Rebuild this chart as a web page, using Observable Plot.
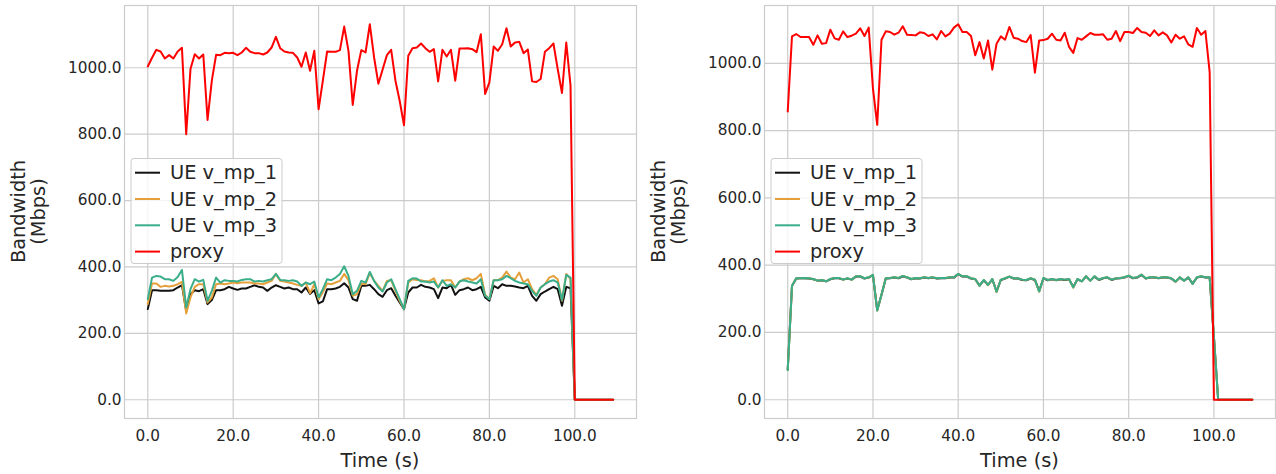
<!DOCTYPE html>
<html><head><meta charset="utf-8">
<script src="https://cdn.jsdelivr.net/npm/d3@7"></script>
<script src="https://cdn.jsdelivr.net/npm/@observablehq/plot@0.6"></script>
<style>
body{margin:0;background:#fff;}
#wrap{display:flex;width:1276px;height:474px;overflow:hidden;}
#wrap svg{font-family:"DejaVu Sans",sans-serif;display:block;}
</style></head><body><div id="wrap"></div>
<script>
// ---- data ----
const time = [0,1,2,3,4,5,6,7,8,9,10,11,12,13,14,15,16,17,18,19,20,21,22,23,24,25,26,27,28,29,30,31,32,33,34,35,36,37,38,39,40,41,42,43,44,45,46,47,48,49,50,51,52,53,54,55,56,57,58,59,60,61,62,63,64,65,66,67,68,69,70,71,72,73,74,75,76,77,78,79,80,81,82,83,84,85,86,87,88,89,90,91,92,93,94,95,96,97,98,99,100,101,102,103,104,105,106,107,108,109];
const seriesNames = ["UE v_mp_1","UE v_mp_2","UE v_mp_3","proxy"];
const seriesColors = ["#111111","#e5a03b","#3aae8a","#ff0000"];
const xTicks = [0,20,40,60,80,100];
const yTicks = [0,200,400,600,800,1000];
const xLabel = "Time (s)";
const yLabelLines = ["Bandwidth","(Mbps)"];

// left panel
const leftUE1 = [273,330,330,328,328,328,330,338,345,268,318,330,327,333,288,300,330,330,333,340,335,331,335,335,340,345,340,338,328,338,345,340,335,338,333,333,323,338,319,330,290,296,333,333,335,340,351,338,303,298,343,343,346,333,318,310,330,336,313,293,273,323,338,338,346,340,338,333,306,338,336,346,316,330,333,338,330,333,340,308,298,343,336,348,343,343,341,338,336,343,313,298,318,326,333,340,333,283,340,336,0,0,0,0,0,0,0,0,0,0];
const leftUE2 = [288,350,350,340,343,341,343,348,355,260,308,340,348,348,293,308,348,350,348,350,353,351,353,353,353,350,350,348,353,358,379,358,356,353,350,346,343,353,321,348,303,324,350,348,353,358,379,360,313,318,350,348,382,358,343,328,358,360,328,298,273,353,363,361,360,356,358,366,338,358,360,360,338,356,363,366,360,366,379,316,303,360,360,368,386,368,363,383,353,363,333,316,338,348,368,373,363,298,379,363,0,0,0,0,0,0,0,0,0,0];
const leftUE3 = [303,368,373,371,363,363,358,370,391,278,333,363,356,361,298,328,368,353,360,358,358,356,361,363,363,356,358,356,360,363,379,361,360,358,360,356,343,353,348,356,308,333,363,360,368,379,402,373,318,328,358,353,385,358,338,326,353,363,333,303,273,358,366,365,356,356,353,356,338,360,343,348,338,356,360,356,353,350,363,313,303,360,360,363,373,366,358,353,350,348,328,313,338,348,356,360,353,300,376,368,0,0,0,0,0,0,0,0,0,0];
const leftProxy = [1004,1030,1054,1049,1028,1038,1028,1049,1060,800,996,1041,1028,1040,843,961,1039,1038,1045,1044,1045,1038,1046,1060,1048,1044,1044,1040,1046,1061,1093,1059,1049,1046,1045,1031,1003,1046,991,1051,875,961,1049,1048,1048,1053,1124,1051,888,991,1053,1046,1131,1031,952,995,1038,1054,961,900,827,1036,1059,1061,1073,1059,1048,1056,959,1054,1034,1054,961,1058,1058,1059,1056,1047,1101,921,956,1064,1051,1071,1119,1064,1076,1078,1044,1055,959,957,966,1048,1059,1073,996,924,1076,946,0,0,0,0,0,0,0,0,0,0];

// right panel
const rightUE1 = [90,338,360,361,361,360,358,354,355,352,358,361,361,357,360,357,366,366,360,363,370,266,312,360,361,363,361,367,363,358,361,360,363,361,363,360,361,361,363,363,373,366,366,360,358,339,355,341,358,322,356,360,366,360,360,356,355,360,356,323,361,355,358,355,358,356,358,335,358,352,366,354,366,356,361,363,356,360,361,363,368,361,363,371,360,363,363,361,363,363,360,351,363,354,363,345,363,366,363,363,186,0,0,0,0,0,0,0,0,0];
const rightUE2 = [89,339,361,361,362,361,359,354,356,352,359,362,362,357,361,357,367,367,361,364,371,265,311,361,362,364,362,368,364,359,362,361,364,362,364,361,362,362,364,364,374,367,367,361,359,338,356,340,359,320,357,361,366,361,361,357,356,361,357,321,362,356,359,356,359,357,359,333,359,352,367,354,367,357,362,364,357,361,362,364,369,362,364,372,361,364,364,362,364,364,361,350,364,354,364,344,364,367,364,364,187,0,0,0,0,0,0,0,0,0];
const rightUE3 = [88,339,361,361,362,361,359,354,356,352,359,362,362,357,361,357,367,367,361,364,371,265,312,361,362,364,362,368,364,359,362,361,364,362,364,361,362,362,364,364,374,367,367,361,359,339,356,341,359,321,357,361,366,361,361,357,356,361,357,322,362,356,359,356,359,357,359,334,359,352,367,354,367,357,362,364,357,361,362,364,369,362,364,372,361,364,364,362,364,364,361,351,364,354,364,344,364,367,364,364,188,0,0,0,0,0,0,0,0,0];
const rightProxy = [857,1080,1087,1078,1078,1078,1055,1083,1058,1060,1100,1074,1070,1095,1078,1082,1088,1104,1081,1106,925,817,1070,1095,1093,1085,1091,1110,1085,1084,1083,1092,1090,1081,1086,1071,1096,1080,1088,1106,1116,1093,1093,1081,1024,1063,1014,1068,981,1058,1080,1070,1108,1076,1073,1066,1063,1084,972,1068,1069,1073,1088,1070,1068,1091,1049,1031,1075,1070,1080,1090,1085,1085,1086,1070,1073,1096,1066,1093,1093,1090,1105,1093,1091,1081,1098,1083,1092,1083,1062,1085,1073,1080,1056,1049,1105,1085,1096,974,0,0,0,0,0,0,0,0,0,0];

// ---- drawing ----
const TEXT = "#262626";
const GRID = "#cccccc";
const W = 638, H = 474, MT = 5, MB = 56;

function panel(valuesList, ml, mr) {
  const rows = [];
  valuesList.forEach((vals, k) => vals.forEach((v, i) => rows.push({t: time[i], v, name: seriesNames[k]})));
  const [ymin, ymax] = d3.extent(rows, d => d.v);
  const ypad = (ymax - ymin) * 0.05;
  const [xmin, xmax] = d3.extent(time);
  const xpad = (xmax - xmin) * 0.05;
  const chart = Plot.plot({
    width: W, height: H, marginLeft: ml, marginRight: mr, marginTop: MT, marginBottom: MB,
    style: {fontFamily: "DejaVu Sans, sans-serif", fontSize: "15.3px", color: TEXT, background: "#ffffff", overflow: "visible"},
    x: {domain: [xmin - xpad, xmax + xpad]},
    y: {domain: [ymin - ypad, ymax + ypad]},
    marks: [
      Plot.gridX(xTicks, {stroke: GRID, strokeOpacity: 1, strokeWidth: 1.2}),
      Plot.gridY(yTicks, {stroke: GRID, strokeOpacity: 1, strokeWidth: 1.2}),
      Plot.axisX(xTicks, {tickSize: 0, tickPadding: 12, tickFormat: d3.format(".1f"), label: null, fill: TEXT}),
      Plot.axisY(yTicks, {tickSize: 0, tickPadding: 3, tickFormat: d3.format(".1f"), label: null, fill: TEXT}),
      ...seriesNames.map((name, k) => Plot.line(rows.filter(d => d.name === name),
        {x: "t", y: "v", stroke: seriesColors[k], strokeWidth: 2, strokeLinejoin: "round", clip: true})),
      Plot.frame({stroke: GRID, strokeWidth: 1.2})
    ]
  });
  const svg = d3.select(chart);
  const plotW = W - ml - mr;
  // x label
  svg.append("text").attr("x", ml + plotW / 2).attr("y", 467)
    .attr("text-anchor", "middle").attr("fill", TEXT).style("font-size", "19.4px").text(xLabel);
  // y label (two lines)
  const cy = MT + (H - MT - MB) / 2;
  yLabelLines.forEach((s, i) => {
    svg.append("text").attr("transform", `translate(${ml - 106 + i * 20.5},${cy}) rotate(-90)`)
      .attr("text-anchor", "middle").attr("dominant-baseline", "central")
      .attr("fill", TEXT).style("font-size", "19.4px").text(s);
  });
  // legend
  const lx = ml + 7, ly = 158.5;
  const g = svg.append("g").attr("text-anchor", "start");
  g.append("rect").attr("x", lx).attr("y", ly).attr("width", 151).attr("height", 105).attr("rx", 3)
    .attr("fill", "#ffffff").attr("fill-opacity", 0.8).attr("stroke", GRID).attr("stroke-width", 1);
  seriesNames.forEach((name, k) => {
    const yy = 172.7 + k * 26.3;
    g.append("line").attr("x1", lx + 4).attr("x2", lx + 29).attr("y1", yy).attr("y2", yy)
      .attr("stroke", seriesColors[k]).attr("stroke-width", 2);
    g.append("text").attr("x", lx + 39).attr("y", yy).attr("text-anchor", "start").attr("dominant-baseline", "central")
      .attr("fill", TEXT).style("font-size", "19.4px").text(name);
  });
  return chart;
}

const wrap = document.getElementById("wrap");
wrap.appendChild(panel([leftUE1, leftUE2, leftUE3, leftProxy], 124, 2));
wrap.appendChild(panel([rightUE1, rightUE2, rightUE3, rightProxy], 126, 1));
</script></body></html>
